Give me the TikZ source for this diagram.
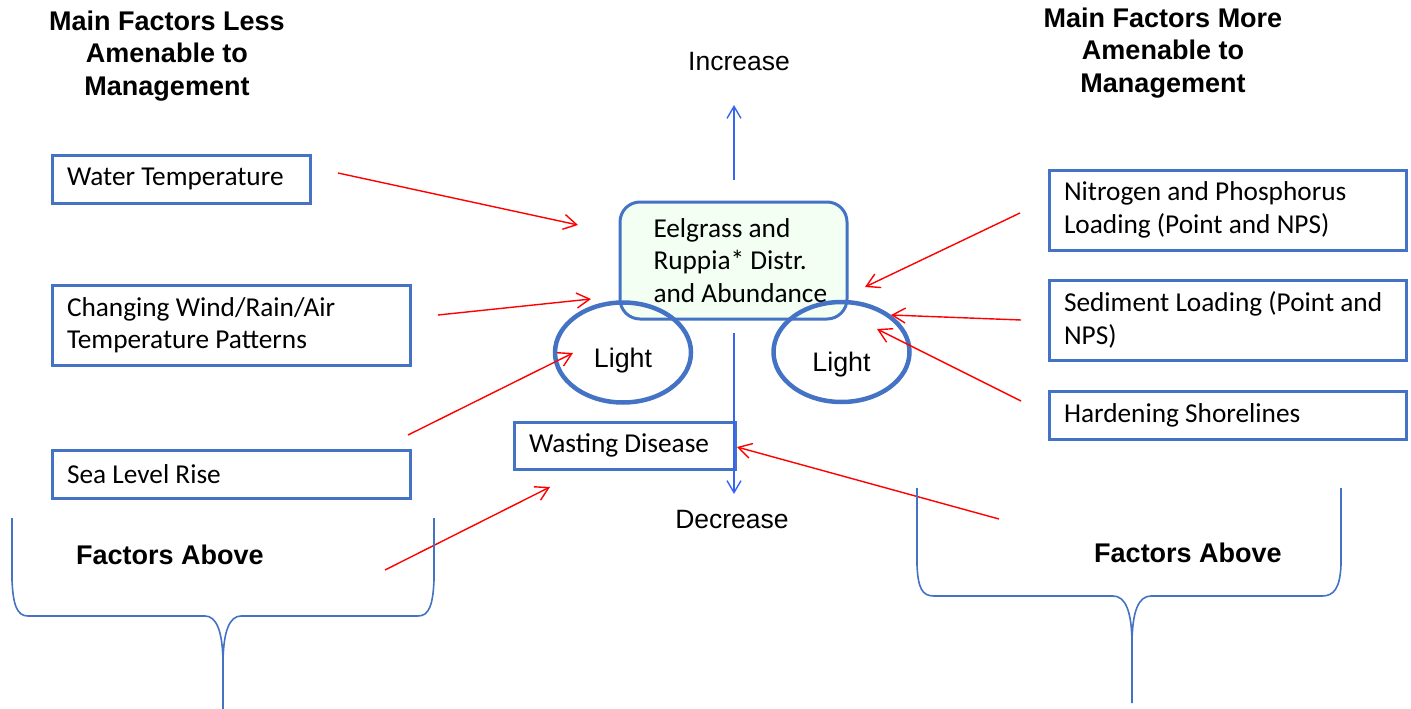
\documentclass[tikz,border=0pt]{standalone}
\usepackage{fontspec}
\setmainfont{Carlito}
\newfontfamily\arialfont{Liberation Sans}
\usetikzlibrary{arrows.meta,positioning,shapes.geometric}

\definecolor{boxblue}{RGB}{68,114,196}
\definecolor{lineblue}{RGB}{55,100,245}
\definecolor{palegreen}{RGB}{243,255,243}

\tikzset{
  factor/.style={rectangle, draw=boxblue, line width=3pt, outer sep=0pt, anchor=west,
    inner xsep=15pt, inner ysep=0pt, font=\fontsize{27.3}{32.5}\selectfont\raggedright,
    execute at begin node={\spaceskip=6.2pt\relax\hyphenpenalty=10000\relax}},
  heading/.style={align=center, font=\arialfont\bfseries\fontsize{27}{32.5}\selectfont},
  trend/.style={font=\arialfont\fontsize{26.5}{32.5}\selectfont},
  light/.style={ellipse, draw=boxblue, line width=4.5pt, minimum width=136pt, minimum height=100pt,
    inner sep=0pt, font=\arialfont\fontsize{26.8}{32.5}\selectfont},
  redarrow/.style={color=red, line width=1.4pt, -{Straight Barb[length=13pt,width=15pt]}},
  bluearrow/.style={color=lineblue, line width=1.4pt, -{Straight Barb[length=12pt,width=14pt]}},
  bracket/.style={draw=boxblue, line width=1.6pt}
}

\begin{document}
\begin{tikzpicture}[x=1pt, y=-1pt]
  \useasboundingbox (0,0) rectangle (1411,709);

  \node[heading] (1) at (167,56) {Main Factors Less\\Amenable to\\Management};
  \node[heading] (2) at (1163,53) {Main Factors More\\Amenable to\\Management};

  \node[factor, text width=228pt, minimum height=48pt] (3) at (52,179) {Water Temperature};
  \node[factor, text width=328pt, minimum height=80pt] (4) at (52,325) {Changing Wind/Rain/Air\\Temperature Patterns};
  \node[factor, text width=328pt, minimum height=48pt] (5) at (52,474) {Sea Level Rise};

  \node[factor, text width=327pt, minimum height=80pt] (6) at (1049,210) {Nitrogen and Phosphorus\\Loading (Point and NPS)};
  \node[factor, text width=327pt, minimum height=80pt] (7) at (1049,320) {Sediment Loading (Point and\\NPS)};
  \node[factor, text width=327pt, minimum height=48pt] (8) at (1049,415) {Hardening Shorelines};

  \node[factor, anchor=center, fill=palegreen, rounded corners=20pt, minimum width=227pt, minimum height=117pt,
    text width=160pt, inner xsep=0pt] (9) at (733.5,260.5) {Eelgrass and\\Ruppia* Distr.\\and~Abundance};
  \node[light, text height=35pt] (10) at (623,352.5) {Light};
  \node[light, text height=45pt] (11) at (841.5,352) {Light};
  \node[factor, text width=191pt, minimum height=47pt] (12) at (514,445.5) {Wasting Disease};

  \node[trend] (13) at (739,62) {Increase};
  \node[trend] (14) at (732,520) {Decrease};
  \node[heading] (15) at (170,555) {Factors Above};
  \node[heading] (16) at (1188,553) {Factors Above};

  % free ends of the arrows
  \coordinate (a1) at (338,173);  \coordinate (b1) at (578,225);
  \coordinate (a2) at (438,315);  \coordinate (b2) at (591,299);
  \coordinate (a3) at (408,435);  \coordinate (b3) at (573,353);
  \coordinate (a4) at (385,570);  \coordinate (b4) at (550,487);
  \coordinate (a5) at (1020,213); \coordinate (b5) at (865,287);
  \coordinate (a6) at (1021,320); \coordinate (b6) at (891,315);
  \coordinate (a7) at (1021,401); \coordinate (b7) at (877,329);
  \coordinate (a8) at (999,519);  \coordinate (b8) at (737,447);
  \coordinate (up0) at (734,180); \coordinate (up1) at (734,105);
  \coordinate (dn0) at (734,333); \coordinate (dn1) at (734,494);

  \path[redarrow]
    (a1) edge (b1)
    (a2) edge (b2)
    (a3) edge (b3)
    (a4) edge (b4)
    (a5) edge (b5)
    (a6) edge (b6)
    (a7) edge (b7)
    (a8) edge (b8);
  \path[bluearrow]
    (up0) edge (up1)
    (dn0) edge (dn1);

  \draw[bracket] (12,518) -- (12,580) .. controls (13,605) and (17,616) .. (28,616) -- (205,616)
    .. controls (216,616) and (223,630) .. (223,665) -- (223,709)
    -- (223,665) .. controls (223,630) and (230,616) .. (241,616) -- (418,616)
    .. controls (429,616) and (433,605) .. (434,580) -- (434,518);
  \draw[bracket] (917,488) -- (917,565) .. controls (918,588) and (922,596) .. (934,596) -- (1113,596)
    .. controls (1125,596) and (1132,610) .. (1132,645) -- (1132,703)
    -- (1132,645) .. controls (1132,610) and (1139,596) .. (1151,596) -- (1322,596)
    .. controls (1334,596) and (1340,588) .. (1341,565) -- (1341,488);
\end{tikzpicture}
\end{document}
